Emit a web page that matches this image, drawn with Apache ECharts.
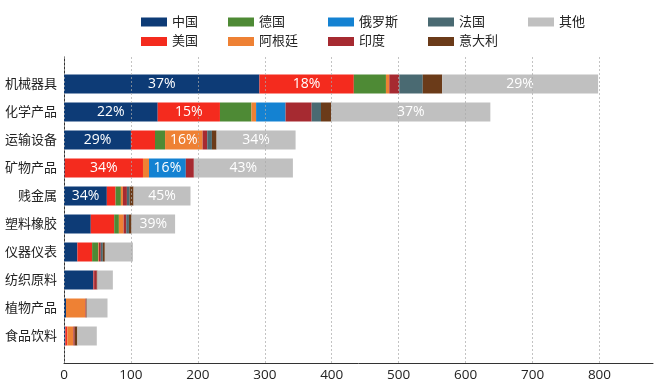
<!DOCTYPE html>
<html>
<head>
<meta charset="utf-8">
<script src="https://cdn.jsdelivr.net/npm/echarts@6/dist/echarts.min.js"></script>
<style>html,body{margin:0;padding:0;background:#fff}#c{width:660px;height:390px}</style>
</head>
<body>
<div id="c"></div>
<script>
const categories = ['机械器具','化学产品','运输设备','矿物产品','贱金属','塑料橡胶','仪器仪表','纺织原料','植物产品','食品饮料'];
const seriesNames = ['中国','美国','德国','阿根廷','俄罗斯','印度','法国','意大利','其他'];
const chinaVals     = [292,140,100,  1, 64, 40, 20, 44,  3,  2];
const usVals        = [141, 93, 36,117, 13, 35, 22,  1,  0,  3];
const germanyVals   = [ 48, 47, 15,  0,  8,  7,  9,  0,  0,  0];
const argentinaVals = [  5,  7, 56,  9,  3,  7,  1,  0, 29,  9];
const russiaVals    = [  0, 44,  0, 55,  0,  0,  0,  0,  0,  0];
const indiaVals     = [ 15, 39,  7, 12,  6,  4,  3,  4,  1,  2];
const franceVals    = [ 35, 14,  7,  0,  4,  4,  3,  0,  0,  0];
const italyVals     = [ 29, 15,  7,  0,  6,  4,  3,  1,  1,  4];
const otherVals     = [233,238,118,148, 85, 65, 42, 23, 31, 29];
const xTicks = [0,100,200,300,400,500,600,700,800];

const colors = ['#0d3b76','#f42b1e','#4e8a35','#ee8134','#1482d2','#a62a31','#4a6a72','#6b3b19','#c0c0c0'];
const allVals = [chinaVals,usVals,germanyVals,argentinaVals,russiaVals,indiaVals,franceVals,italyVals,otherVals];
const totals = categories.map((c,i)=>allVals.reduce((s,a)=>s+a[i],0));

const FONT = '"Open Sans","Noto Sans CJK SC",sans-serif';
const XMAX = 880;
const L = 64, R = 7, W = 660;
const plotW = W - L - R;
const right800 = W - (L + plotW * xTicks[xTicks.length-1] / XMAX);

const legendCols = [[0,1],[2,3],[4,5],[6,7],[8]];
const legendX = [136,223,323,423,523];
const legends = legendCols.map((idxs,k)=>({
  orient:'vertical', left:legendX[k], top:10, itemWidth:26, itemHeight:9, itemGap:5.5,
  icon:'rect', data: idxs.map(i=>seriesNames[i]),
  textStyle:{fontFamily:FONT,fontSize:13,color:'#222',lineHeight:14},
  selectedMode:false
}));

const chart = echarts.init(document.getElementById('c'),null,{renderer:'canvas'});
chart.setOption({
  animation:false,
  color:colors,
  legend:legends,
  grid:[
    {left:L,right:R,top:57,bottom:27},
    {left:L,right:right800,top:57,bottom:27},
    {left:L,right:R,top:70,bottom:40}
  ],
  xAxis:[
    {gridIndex:0,type:'value',min:0,max:XMAX,interval:100,
     axisLine:{show:true,lineStyle:{color:'#333',width:1}},axisTick:{show:false},
     splitLine:{show:false},
     axisLabel:{fontFamily:FONT,fontSize:13.5,color:'#222',margin:5,
       formatter:v=>xTicks.includes(v)?String(v):''}},
    {gridIndex:1,type:'value',min:0,max:xTicks[xTicks.length-1],interval:100,z:5,
     axisLine:{show:false},axisTick:{show:false},axisLabel:{show:false},
     splitLine:{show:true,lineStyle:{color:'#aaa',width:1,type:[2,2],opacity:0.7}}},
    {gridIndex:2,type:'value',min:0,max:XMAX,show:false}
  ],
  yAxis:[
    {gridIndex:0,type:'value',min:0,max:1,axisLine:{show:true,lineStyle:{color:'#333',width:1}},
     axisTick:{show:false},axisLabel:{show:false},splitLine:{show:false}},
    {gridIndex:1,type:'value',min:0,max:1,show:false},
    {gridIndex:2,type:'category',inverse:true,data:categories,
     axisLine:{show:false},axisTick:{show:false},splitLine:{show:false},
     axisLabel:{fontFamily:FONT,fontSize:13,color:'#222',margin:7}}
  ],
  series: seriesNames.map((n,k)=>({
    name:n,type:'bar',stack:'total',xAxisIndex:2,yAxisIndex:2,barWidth:19,
    data:allVals[k],
    itemStyle:{color:colors[k]},
    label:{show:true,position:'inside',fontFamily:FONT,fontSize:14,color:'#fff',
      formatter:p=>{const pct=Math.round(p.value/totals[p.dataIndex]*100);return (pct>=15&&p.value>=50)?pct+'%':'';}}
  }))
});
</script>
</body>
</html>
